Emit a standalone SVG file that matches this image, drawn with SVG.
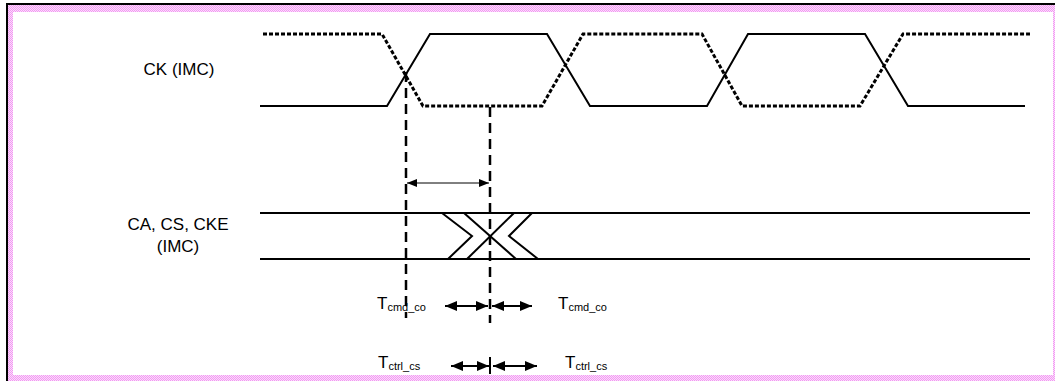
<svg xmlns="http://www.w3.org/2000/svg" width="1055" height="381" viewBox="0 0 1055 381">
<defs>
<pattern id="chk" width="2" height="2" patternUnits="userSpaceOnUse">
<rect width="2" height="2" fill="#fdd8fd"/>
<rect width="1" height="1" fill="#f09cf0"/>
<rect x="1" y="1" width="1" height="1" fill="#f09cf0"/>
</pattern>
<marker id="ah" viewBox="0 0 10 8" refX="10" refY="4" markerWidth="10" markerHeight="8" markerUnits="userSpaceOnUse" orient="auto-start-reverse">
<path d="M0,0 L10,4 L0,8 Z" fill="#000"/>
</marker>
<marker id="ahb" viewBox="0 0 12 10" refX="12" refY="5" markerWidth="12" markerHeight="10" markerUnits="userSpaceOnUse" orient="auto-start-reverse">
<path d="M0,0 L12,5 L0,10 Z" fill="#000"/>
</marker>
</defs>
<style>
.lbl{font-family:"Liberation Sans",Arial,sans-serif;font-size:17px;fill:#000}
.sub{font-size:11px}
.sol{fill:none;stroke:#000;stroke-width:2}
.dot{fill:none;stroke:#000;stroke-width:3;stroke-dasharray:4 2}
.dash{fill:none;stroke:#000;stroke-width:2.5;stroke-dasharray:10 6}
.arr{fill:none;stroke:#000;stroke-width:1}
.arrb{fill:none;stroke:#000;stroke-width:2}
</style>
<rect width="1055" height="381" fill="#fff"/>
<g id="frame">
<rect x="6" y="3" width="1049" height="2" fill="#000"/>
<rect x="6" y="3" width="2" height="378" fill="#000"/>
<rect x="8" y="5" width="1047" height="7" fill="url(#chk)"/>
<rect x="8" y="5" width="5" height="376" fill="url(#chk)"/>
<rect x="8" y="375" width="1047" height="6" fill="url(#chk)"/>
<rect x="1053" y="5" width="2" height="376" fill="url(#chk)"/>
</g>
<g id="ck">
<polyline class="sol" points="260,106 387,106 430,34 547,34 590,106 707,106 748,34 865,34 908,106 1025,106"/>
</g>
<g id="ck_n">
<polyline class="dot" points="263,34 382,34 423,106 542,106 583,34 702,34 742,106 860,106 903,34 1030,34"/>
</g>
<g id="bus">
<line class="sol" x1="260" y1="213" x2="1030" y2="213"/>
<line class="sol" x1="260" y1="259" x2="1030" y2="259"/>
<polyline class="sol" points="442,213 472,236 448,259"/>
<line class="sol" x1="464" y1="213" x2="516" y2="259"/>
<line class="sol" x1="514" y1="213" x2="467" y2="259"/>
<polyline class="sol" points="532,213 509,236 538,259"/>
</g>
<g id="labels">
<text class="lbl" x="179" y="75" text-anchor="middle">CK (IMC)</text>
<text class="lbl" x="178" y="230" text-anchor="middle">CA, CS, CKE</text>
<text class="lbl" x="178" y="252" text-anchor="middle">(IMC)</text>
<text class="lbl" x="377" y="309">T<tspan class="sub" dy="2">cmd_co</tspan></text>
<text class="lbl" x="558" y="309">T<tspan class="sub" dy="2">cmd_co</tspan></text>
<text class="lbl" x="378" y="368">T<tspan class="sub" dy="2">ctrl_cs</tspan></text>
<text class="lbl" x="565" y="368">T<tspan class="sub" dy="2">ctrl_cs</tspan></text>
</g>
<g id="connectors">
<line class="dash" x1="406" y1="72" x2="406" y2="318"/>
<line class="dash" x1="490" y1="107" x2="490" y2="323"/>
<line class="arr" x1="407" y1="183" x2="489" y2="183" marker-start="url(#ah)" marker-end="url(#ah)"/>
<line class="arrb" x1="445" y1="306" x2="488" y2="306" marker-start="url(#ahb)" marker-end="url(#ahb)"/>
<line class="arrb" x1="492" y1="306" x2="532" y2="306" marker-start="url(#ahb)" marker-end="url(#ahb)"/>
<line class="arrb" x1="451" y1="366" x2="489" y2="366" marker-start="url(#ahb)" marker-end="url(#ahb)"/>
<line class="arrb" x1="493" y1="366" x2="537" y2="366" marker-start="url(#ahb)" marker-end="url(#ahb)"/>
<line class="arrb" x1="490" y1="357" x2="490" y2="374"/>
</g>
</svg>
